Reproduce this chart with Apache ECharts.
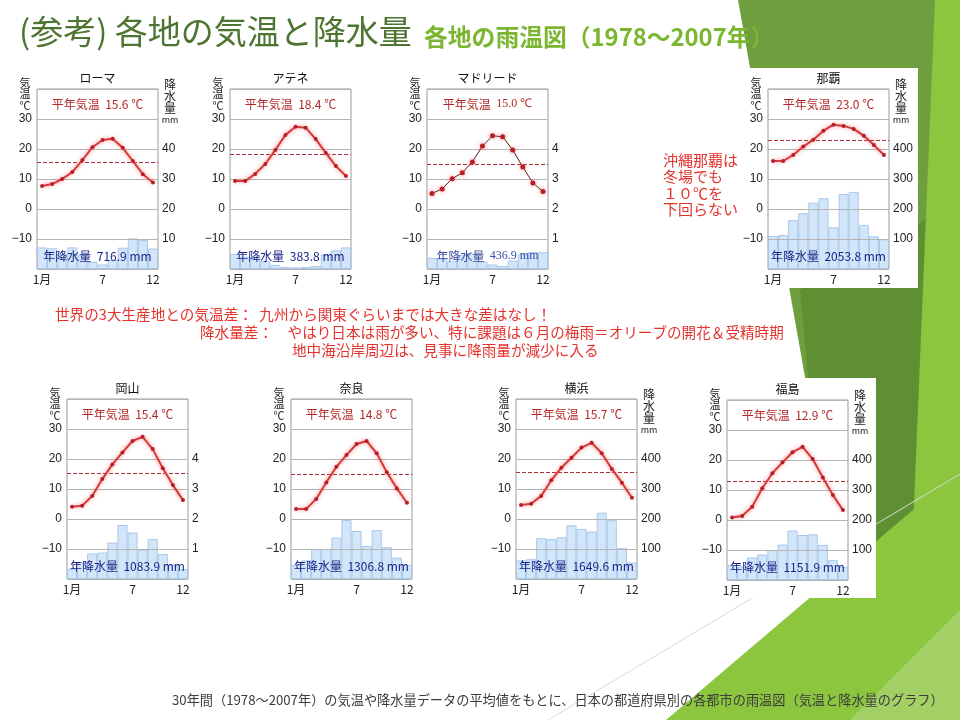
<!DOCTYPE html>
<html><head><meta charset="utf-8">
<script src="https://cdn.jsdelivr.net/npm/echarts@6/dist/echarts.min.js"></script>
<style>html,body{margin:0;padding:0;background:#fff}#c{width:960px;height:720px}</style>
</head><body><div id="c"></div>
<script>
// ---------- data ----------
const months = ['1月','2','3','4','5','6','7','8','9','10','11','12'];
const cityNames = ['ローマ','アテネ','マドリード','那覇','岡山','奈良','横浜','福島'];
const avgTemp = [15.6, 18.4, 15.0, 23.0, 15.4, 14.8, 15.7, 12.9];
const annualPrecip = [716.9, 383.8, 436.9, 2053.8, 1083.9, 1306.8, 1649.6, 1151.9];

const tempRome      = [7.7, 8.3, 10.0, 12.3, 16.3, 20.6, 23.0, 23.4, 20.4, 16.0, 11.6, 8.8];
const tempAthens    = [9.3, 9.3, 11.7, 15.0, 19.7, 24.7, 27.4, 27.1, 23.3, 18.7, 14.3, 11.0];
const tempMadrid    = [5.2, 6.7, 10.1, 12.1, 15.7, 21.0, 24.4, 24.1, 19.7, 14.0, 8.7, 5.8];
const tempNaha      = [16.0, 16.0, 18.0, 20.8, 23.1, 26.1, 28.1, 27.7, 26.7, 24.4, 21.3, 18.0];
const tempOkayama   = [4.1, 4.4, 7.7, 13.3, 18.2, 22.2, 26.0, 27.4, 23.3, 16.9, 11.3, 6.3];
const tempNara      = [3.3, 3.3, 6.7, 12.2, 17.4, 21.3, 25.0, 26.0, 21.9, 15.6, 10.2, 5.4];
const tempYokohama  = [4.7, 5.1, 7.7, 12.9, 17.1, 20.4, 23.8, 25.4, 21.9, 16.7, 12.1, 7.1];
const tempFukushima = [0.8, 1.3, 4.4, 10.6, 15.6, 19.2, 22.6, 24.4, 20.3, 14.2, 8.3, 3.3];

const precRome      = [72, 69, 50, 72, 48, 24, 15, 30, 71, 102, 97, 68];
const precAthens    = [50, 41, 41, 27, 14, 6, 5, 6, 10, 48, 62, 72];
const precMadrid    = [37, 35, 26, 47, 52, 25, 15, 10, 28, 49, 56, 56];
const precNaha      = [110, 113, 163, 186, 221, 236, 139, 250, 257, 147, 109, 99];
const precOkayama   = [34, 55, 85, 88, 121, 180, 155, 98, 133, 83, 48, 33];
const precNara      = [47, 62, 100, 100, 138, 197, 160, 110, 163, 106, 71, 47];
const precYokohama  = [62, 66, 136, 133, 139, 179, 167, 158, 221, 196, 103, 55];
const precFukushima = [50, 45, 75, 85, 100, 118, 165, 150, 152, 117, 66, 43];

const temps = [tempRome, tempAthens, tempMadrid, tempNaha, tempOkayama, tempNara, tempYokohama, tempFukushima];
const precs = [precRome, precAthens, precMadrid, precNaha, precOkayama, precNara, precYokohama, precFukushima];

// ---------- layout ----------
const W = 121, H = 180;
const pos = [
  {l:37, t:89}, {l:230, t:89}, {l:427, t:89}, {l:768, t:89},
  {l:67, t:399}, {l:291, t:399}, {l:516, t:399}, {l:727, t:400}
];
// right-axis visibility (images overlap / are cropped in the slide)
const rightMode = ['cut2','hide','cut1','full','cut1','hide','full','full'];
const FONT = '"Noto Sans CJK JP", "Noto Sans", sans-serif';

const grids = [], xAxes = [], yAxes = [], series = [], gfx = [];

// background decoration
gfx.push({type:'polygon', z:0, silent:true, shape:{points:[[738,0],[960,0],[960,720],[866,720]]}, style:{fill:'#6f9e3e'}});
gfx.push({type:'polygon', z:0, silent:true, shape:{points:[[800,290],[960,200],[960,600],[840,720]]}, style:{fill:'#5f8f33'}});
gfx.push({type:'polygon', z:0, silent:true, shape:{points:[[935,0],[960,0],[960,720],[905,720]]}, style:{fill:'#8cc63f'}});
gfx.push({type:'polygon', z:0, silent:true, shape:{points:[[666,720],[960,470],[960,720]]}, style:{fill:'#8cc63f'}});
gfx.push({type:'polygon', z:0, silent:true, shape:{points:[[850,720],[960,610],[960,720]]}, style:{fill:'#a3d064'}});
gfx.push({type:'line', z:0, silent:true, shape:{x1:548,y1:720,x2:960,y2:474}, style:{stroke:'#d8d8d8', lineWidth:1}});

// white picture boxes over the green
gfx.push({type:'rect', z:1, silent:true, shape:{x:745,y:68,width:173,height:220}, style:{fill:'#ffffff'}});
gfx.push({type:'rect', z:1, silent:true, shape:{x:704,y:378,width:172,height:220}, style:{fill:'#ffffff'}});

for (let i = 0; i < 8; i++) {
  const {l, t} = pos[i];
  const isMadrid = i === 2;
  grids.push({left:l, top:t, width:W, height:H, show:true, borderColor:'#9a9a9a', borderWidth:1, backgroundColor:'#ffffff', z:2});
  xAxes.push({
    type:'category', gridIndex:i, data:months, boundaryGap:true, z:4,
    axisLine:{show:false}, axisTick:{show:false},
    axisLabel:{interval:(idx)=> idx===0||idx===6||idx===11, margin:4, fontSize:12, color:'#222', fontFamily:FONT}
  });
  yAxes.push({
    type:'value', gridIndex:i, min:-20, max:40, interval:10, position:'left', z:4,
    axisLine:{show:false}, axisTick:{show:false},
    splitLine:{show:true, lineStyle:{color:'#b4b4b4', width:1}},
    axisLabel:{margin:5, fontSize:12, color:'#222', fontFamily:'"Liberation Sans", Arial, sans-serif',
      formatter:(v)=> (v===-20||v===40) ? '' : (v<0 ? '−'+(-v) : String(v))}
  });
  const rm = rightMode[i];
  const rLabel = {show: rm !== 'hide', margin:4, fontSize:12, color:'#222', fontFamily:'"Liberation Sans", Arial, sans-serif',
      formatter:(v)=> (v>=100 && v<=400) ? String(v) : ''};
  if (rm === 'cut2') { rLabel.width = 15; rLabel.overflow = 'truncate'; rLabel.ellipsis = ''; }
  if (rm === 'cut1') { rLabel.width = 8; rLabel.overflow = 'truncate'; rLabel.ellipsis = ''; }
  yAxes.push({
    type:'value', gridIndex:i, min:0, max:600, interval:100, position:'right', z:4,
    axisLine:{show:false}, axisTick:{show:false}, splitLine:{show:false},
    axisLabel:rLabel
  });
  series.push({
    type:'bar', xAxisIndex:i, yAxisIndex:2*i+1, data:precs[i], barCategoryGap:'0%', z:3, silent:true,
    itemStyle:{color:'#d3e6f9', borderColor:'#a6c7ea', borderWidth:1}
  });
  series.push({
    type:'line', xAxisIndex:i, yAxisIndex:2*i, data:temps[i], z:5, silent:true,
    symbol:'circle', symbolSize: isMadrid ? 5 : 4, showSymbol:true,
    itemStyle:{color:'#b81e2a', shadowColor: isMadrid ? 'rgba(255,110,110,0.9)' : 'rgba(0,0,0,0)', shadowBlur: isMadrid ? 4 : 0},
    lineStyle: isMadrid ? {color:'#4a1c1c', width:1} : {color:'#d43a3a', width:2, shadowColor:'rgba(255,90,90,0.75)', shadowBlur:4},
    markLine:{silent:true, symbol:'none', label:{show:false},
      lineStyle:{type:'dashed', color:'#a8333a', width:1},
      data:[{yAxis:avgTemp[i]}]}
  });

  // texts
  gfx.push({type:'text', z:6, silent:true, style:{text:cityNames[i], x:l+W/2, y:t-11, align:'center', verticalAlign:'middle',
    font:'12px ' + FONT, fill:'#111'}});
  gfx.push({type:'text', z:6, silent:true, style:{text:'気\n温\n℃', x:l-12, y:t-12, align:'center', verticalAlign:'top',
    font:'11px ' + FONT, lineHeight:11.5, fill:'#222'}});
  if (rm === 'full' || rm === 'cut2') {
    gfx.push({type:'text', z:6, silent:true, style:{text:'降\n水\n量', x:l+W+12, y:t-11, align:'center', verticalAlign:'top',
      font:'12px ' + FONT, lineHeight:12, fill:'#222'}});
    gfx.push({type:'text', z:6, silent:true, style:{text:'mm', x:l+W+12, y:t+31, align:'center', verticalAlign:'middle',
      font:'9px ' + FONT, fill:'#222'}});
  }
  const numFont = isMadrid ? '"Liberation Serif", serif' : FONT;
  gfx.push({type:'text', z:6, silent:true, style:{
    text:'{a|平年気温  }{b|' + avgTemp[i].toFixed(1) + ' ℃}', x:l+W/2, y:t+15, align:'center', verticalAlign:'middle',
    rich:{a:{fontSize:12, fontFamily:FONT, fill:'#b02a2a'}, b:{fontSize:12, fontFamily:numFont, fill:'#b02a2a'}}}});
  gfx.push({type:'text', z:6, silent:true, style:{
    text:'{a|年降水量  }{b|' + annualPrecip[i].toFixed(1) + ' mm}', x:l+W/2, y:t+H-13, align:'center', verticalAlign:'middle',
    rich:{a:{fontSize:12, fontFamily:FONT, fill: isMadrid ? '#3a4a9e' : '#1a2485'}, b:{fontSize:12, fontFamily:numFont, fill: isMadrid ? '#3a4a9e' : '#1a2485'}}}});
}

// slide texts
gfx.push({type:'text', z:6, silent:true, style:{text:'(参考) 各地の気温と降水量', x:19, y:31, verticalAlign:'middle',
  font:'33px ' + FONT, fill:'#4d7430'}});
gfx.push({type:'text', z:6, silent:true, style:{text:'各地の雨温図（1978～2007年）', x:424, y:37, verticalAlign:'middle',
  font:'bold 23.8px ' + FONT, fill:'#7bb630'}});
const noteLines = [
  {s:'世界の3大生産地との気温差：  九州から関東ぐらいまでは大きな差はなし！', x:55, y:314},
  {s:'降水量差：　やはり日本は雨が多い、特に課題は６月の梅雨＝オリーブの開花＆受精時期', x:200, y:332},
  {s:'地中海沿岸周辺は、見事に降雨量が減少に入る', x:292, y:350}
];
noteLines.forEach(n => gfx.push({type:'text', z:6, silent:true, style:{text:n.s, x:n.x, y:n.y, verticalAlign:'middle',
  font:'14.6px ' + FONT, fill:'#e5322d'}}));
gfx.push({type:'text', z:6, silent:true, style:{text:'沖縄那覇は\n冬場でも\n１０℃を\n下回らない', x:663, y:152, verticalAlign:'top',
  font:'15px ' + FONT, lineHeight:16.5, fill:'#e5322d'}});
gfx.push({type:'text', z:6, silent:true, style:{text:'30年間（1978～2007年）の気温や降水量データの平均値をもとに、日本の都道府県別の各都市の雨温図（気温と降水量のグラフ）',
  x:172, y:700, verticalAlign:'middle', font:'13.2px ' + FONT, fill:'#3c3c3c'}});

const chart = echarts.init(document.getElementById('c'), null, {renderer:'canvas'});
chart.setOption({
  animation:false,
  backgroundColor:'#ffffff',
  grid:grids, xAxis:xAxes, yAxis:yAxes, series:series,
  graphic:{elements:gfx}
});
</script></body></html>
